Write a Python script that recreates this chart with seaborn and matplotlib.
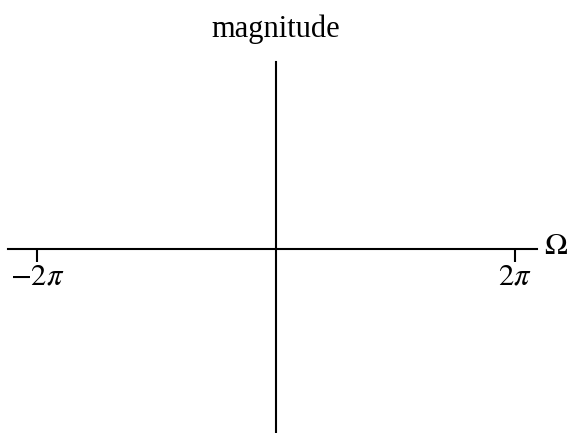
import numpy as np
import matplotlib
matplotlib.use("Agg")
import matplotlib.pyplot as plt
import seaborn as sns

# Tick positions on the frequency axis and their labels
tick_values = [-2 * np.pi, 2 * np.pi]
tick_labels = [r"$-2\pi$", r"$2\pi$"]
x_label = r"$\Omega$"
y_label = "magnitude"

sns.set_theme(style="white")
plt.rcParams["font.family"] = ["Liberation Serif", "DejaVu Serif"]
plt.rcParams["mathtext.fontset"] = "stix"
plt.rcParams["text.color"] = "black"

fig = plt.figure(figsize=(5.78, 4.33), dpi=100)
ax = fig.add_axes([0, 0, 1, 1])

unit = 2 * np.pi / 239.0  # data units per pixel horizontally
ax.set_xlim(-276 * unit, (578 - 276) * unit)
ax.set_ylim(249 - 433, 249)

lw = 1.5
for side in ["top", "right"]:
    ax.spines[side].set_visible(False)
ax.spines["left"].set_position(("data", 0))
ax.spines["bottom"].set_position(("data", 0))
ax.spines["left"].set_bounds(249 - 433, 249 - 62)
ax.spines["bottom"].set_bounds((8 - 276) * unit, (537 - 276) * unit)
for side in ["left", "bottom"]:
    ax.spines[side].set_color("black")
    ax.spines[side].set_linewidth(lw)

fs = 22
ax.set_yticks([])
ax.set_xticks(tick_values)
ax.set_xticklabels(tick_labels, fontsize=fs)
ax.tick_params(axis="x", direction="out", length=9.5, width=lw, color="black",
               pad=0, bottom=True, labelcolor="black")

ax.text((556 - 276) * unit, 2, x_label, fontsize=fs, ha="center", va="center")
ax.text(0, 249 - 29, y_label, fontsize=fs, ha="center", va="center")

fig.savefig("out.png", dpi=100)
